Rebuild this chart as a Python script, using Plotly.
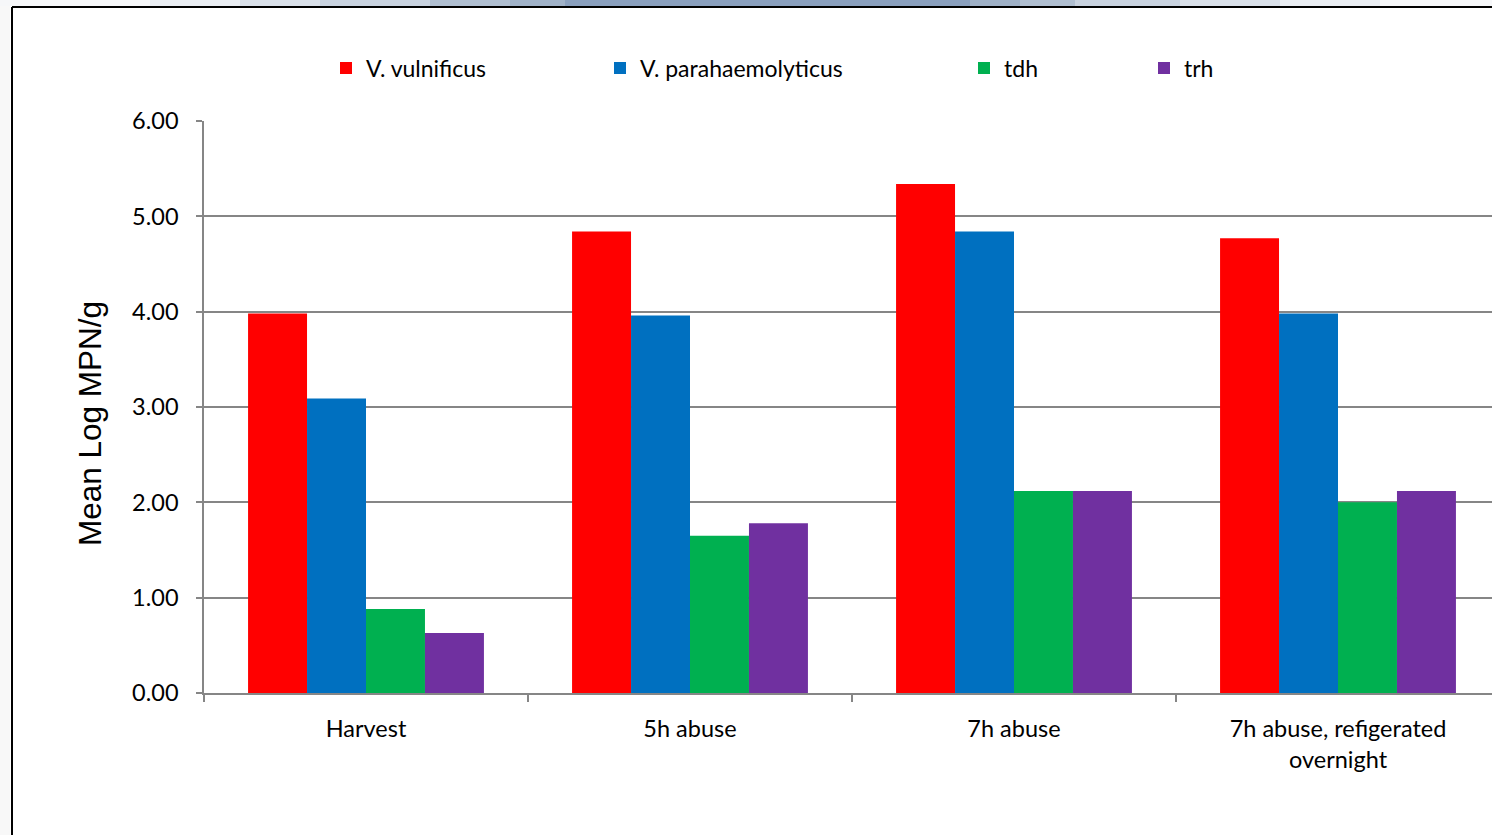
import plotly.graph_objects as go

categories = ["Harvest", "5h abuse", "7h abuse", "7h abuse, refigerated<br>overnight"]
series_names = ["V. vulnificus", "V. parahaemolyticus", "tdh", "trh"]
v_vulnificus = [3.98, 4.84, 5.34, 4.77]
v_parahaemolyticus = [3.09, 3.96, 4.84, 3.98]
tdh = [0.88, 1.65, 2.12, 2.00]
trh = [0.63, 1.78, 2.12, 2.12]
y_ticks = [0, 1, 2, 3, 4, 5, 6]
y_tick_labels = ["0.00", "1.00", "2.00", "3.00", "4.00", "5.00", "6.00"]

colors = ["#FF0000", "#0070C0", "#00B050", "#7030A0"]
values = [v_vulnificus, v_parahaemolyticus, tdh, trh]
legend_ids = ["legend", "legend2", "legend3", "legend4"]

W, H = 1492, 835
L, R_px, T, B = 204, 1492, 121, 693
pw, ph = R_px - L, B - T

def px(x):
    return (x - L) / pw

def py(y):
    return (B - y) / ph

FONT = "Lato"
fig = go.Figure()
for name, vals, c, lg in zip(series_names, values, colors, legend_ids):
    fig.add_trace(go.Bar(x=categories, y=vals, name=name, marker_color=c,
                         marker_line_width=0, legend=lg))

legend_x = [344, 618, 982, 1162]
leg_common = dict(orientation="h", yanchor="middle", xanchor="left",
                  font=dict(family=FONT, size=23, color="#000000"),
                  bgcolor="rgba(0,0,0,0)", borderwidth=0, itemwidth=30)
layout_legends = {}
for lg, lx in zip(legend_ids, legend_x):
    d = dict(leg_common)
    d.update(x=px(lx - 18), y=py(68))
    layout_legends[lg] = d

shapes = []
# top gradient band
bands = [(0, 150, "#f6f7f9"), (150, 240, "#e9edf2"), (240, 320, "#dae1ea"),
         (320, 430, "#c8d2df"), (430, 510, "#b0bfd1"), (510, 565, "#a0b2c8"),
         (565, 970, "#8aa0be"), (970, 1020, "#9fb1c7"), (1020, 1075, "#b0bfd1"),
         (1075, 1180, "#c8d2df"), (1180, 1280, "#dae1ea"), (1280, 1380, "#e9edf2"),
         (1380, 1492, "#f6f7f9")]
for x0, x1, c in bands:
    shapes.append(dict(type="rect", xref="paper", yref="paper", x0=px(x0), x1=px(x1),
                       y0=py(6), y1=py(0), fillcolor=c, line_width=0, layer="below"))
shapes.append(dict(type="rect", xref="paper", yref="paper", x0=px(0), x1=px(10),
                   y0=py(835), y1=py(6), fillcolor="#f8f8f8", line_width=0, layer="below"))
# black frame
shapes.append(dict(type="line", xref="paper", yref="paper", x0=px(12), x1=px(1492),
                   y0=py(7), y1=py(7), line=dict(color="#000000", width=2)))
shapes.append(dict(type="line", xref="paper", yref="paper", x0=px(12), x1=px(12),
                   y0=py(7), y1=py(835), line=dict(color="#000000", width=2)))

fig.update_layout(
    width=W, height=H,
    margin=dict(l=L, r=W - R_px, t=T, b=H - B, pad=0),
    paper_bgcolor="#ffffff", plot_bgcolor="#ffffff",
    barmode="group", bargap=0.272, bargroupgap=0,
    showlegend=True,
    shapes=shapes,
    **layout_legends,
    annotations=[dict(text="Mean Log MPN/g", xref="paper", yref="paper",
                      x=px(90), y=py(424), textangle=-90, showarrow=False,
                      font=dict(family="Liberation Sans", size=31.5, color="#000000"),
                      xanchor="center", yanchor="middle")],
)
fig.update_xaxes(range=[-0.5, -0.5 + pw / 324.0], showgrid=False, showline=True,
                 linecolor="#868686", linewidth=1.5, ticks="outside", tickson="boundaries",
                 ticklen=7, tickcolor="#868686", tickwidth=1.5,
                 tickfont=dict(family=FONT, size=23.5, color="#000000"),
                 ticklabelstandoff=14, fixedrange=True)
fig.update_yaxes(range=[0, 6], tickvals=y_ticks, ticktext=y_tick_labels,
                 showgrid=True, gridcolor="#868686", gridwidth=1.5, zeroline=False,
                 showline=True, linecolor="#868686", linewidth=1.5,
                 ticks="outside", ticklen=6, tickcolor="#868686", tickwidth=1.5,
                 tickfont=dict(family=FONT, size=23.5, color="#000000"),
                 ticklabelstandoff=13, fixedrange=True)

fig.write_html("out.html", config={"displayModeBar": False})
